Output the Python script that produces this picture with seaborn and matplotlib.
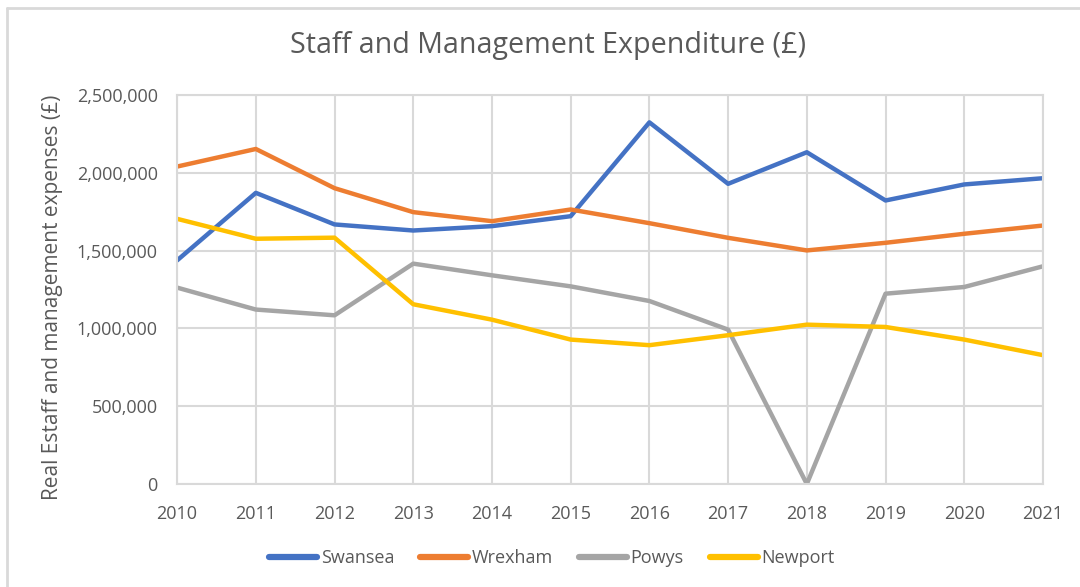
import matplotlib
matplotlib.use("Agg")
import matplotlib.pyplot as plt
from matplotlib.lines import Line2D
from matplotlib.ticker import FuncFormatter
import seaborn as sns
import pandas as pd

years = [2010, 2011, 2012, 2013, 2014, 2015, 2016, 2017, 2018, 2019, 2020, 2021]
swansea = [1437000, 1871000, 1668000, 1629000, 1657000, 1721000,
           2324000, 1929000, 2132000, 1822000, 1925000, 1965000]
wrexham = [2040000, 2153000, 1901000, 1747000, 1689000, 1764000,
           1676000, 1582000, 1501000, 1550000, 1608000, 1661000]
powys = [1262000, 1121000, 1084000, 1416000, 1341000, 1270000,
         1176000, 992000, 0, 1223000, 1266000, 1399000]
newport = [1704000, 1576000, 1583000, 1155000, 1056000, 928000,
           892000, 956000, 1024000, 1009000, 928000, 828000]

series_names = ['Swansea', 'Wrexham', 'Powys', 'Newport']
palette = ['#4472C4', '#ED7D31', '#A5A5A5', '#FFC000']

df = pd.DataFrame({'year': years, 'Swansea': swansea, 'Wrexham': wrexham,
                   'Powys': powys, 'Newport': newport})
long = df.melt(id_vars='year', var_name='council', value_name='spend')

sns.set_style("white")
plt.rcParams['font.family'] = ['Open Sans', 'DejaVu Sans']
grey_text = '#595959'
grid_col = '#d9d9d9'

fig = plt.figure(figsize=(10.8, 5.87), dpi=100)
ax = fig.add_axes([0.164, 0.1755, 0.8017, 0.6627])

sns.lineplot(data=long, x='year', y='spend', hue='council',
             hue_order=series_names, palette=palette, linewidth=3.2,
             ax=ax, legend=False)

ax.set_xlim(2010, 2021)
ax.set_ylim(0, 2500000)
ax.set_xticks(years)
ax.set_yticks([0, 500000, 1000000, 1500000, 2000000, 2500000])
ax.yaxis.set_major_formatter(FuncFormatter(lambda v, p: f'{int(v):,}'))
ax.grid(True, color=grid_col, linewidth=1.5)
ax.set_axisbelow(True)
for s in ax.spines.values():
    s.set_color(grid_col)
    s.set_linewidth(1.5)
ax.tick_params(length=0, labelsize=13, colors=grey_text)
ax.tick_params(axis='x', pad=15)
ax.tick_params(axis='y', pad=14)

ax.set_xlabel('')
ax.set_ylabel('Real Estaff and management expenses (£)', fontsize=15, color=grey_text)
ax.yaxis.set_label_coords(-0.1316, 0.48)

fig.text(0.507, 0.923, 'Staff and Management Expenditure (£)', fontsize=20.6,
         color=grey_text, ha='center', va='center')

handles = [Line2D([0], [0], color=c, linewidth=4.5, solid_capstyle='round') for c in palette]
fig.legend(handles, series_names, loc='center', bbox_to_anchor=(0.511, 0.049),
           ncol=4, frameon=False, fontsize=13, labelcolor=grey_text,
           handlelength=2.65, handletextpad=0.2, columnspacing=1.45)

# chart border like the spreadsheet export
fig.add_artist(Line2D([0.0065, 0.0065], [0, 0.986], color=grid_col, linewidth=2,
                      transform=fig.transFigure))
fig.add_artist(Line2D([0.0065, 1], [0.986, 0.986], color=grid_col, linewidth=2,
                      transform=fig.transFigure))

fig.savefig('out.png', dpi=100)
